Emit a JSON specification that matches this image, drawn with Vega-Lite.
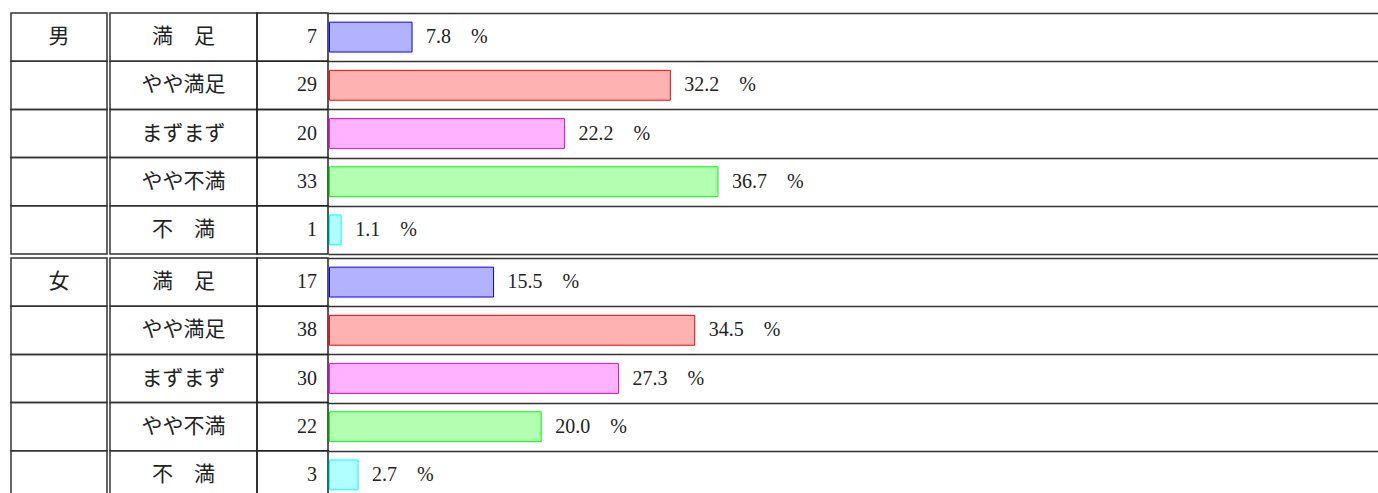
{
  "$schema": "https://vega.github.io/schema/vega-lite/v6.json",
  "padding": {"left": 10, "top": 12, "right": 0, "bottom": 0},
  "background": "white",
  "config": {
    "view": {"stroke": null},
    "text": {"font": "Liberation Serif", "fontSize": 20, "color": "#222", "baseline": "middle"}
  },
  "datasets": {
    "t": [
      {"g": "男", "c": "満　足", "n": 7, "p": 7.8},
      {"g": "男", "c": "やや満足", "n": 29, "p": 32.2},
      {"g": "男", "c": "まずまず", "n": 20, "p": 22.2},
      {"g": "男", "c": "やや不満", "n": 33, "p": 36.7},
      {"g": "男", "c": "不　満", "n": 1, "p": 1.1},
      {"g": "女", "c": "満　足", "n": 17, "p": 15.5},
      {"g": "女", "c": "やや満足", "n": 38, "p": 34.5},
      {"g": "女", "c": "まずまず", "n": 30, "p": 27.3},
      {"g": "女", "c": "やや不満", "n": 22, "p": 20.0},
      {"g": "女", "c": "不　満", "n": 3, "p": 2.7}
    ]
  },
  "data": {"name": "t"},
  "spacing": 2,
  "vconcat": [
    {
      "transform": [{"filter": "datum.g == '男'"}],
      "spacing": 3,
      "bounds": "flush",
      "hconcat": [
        {
          "width": 96, "height": 241,
          "encoding": {
            "y": {"field": "c", "type": "nominal", "sort": ["満　足", "やや満足", "まずまず", "やや不満", "不　満"], "scale": {"paddingInner": 0, "paddingOuter": 0}, "axis": null}
          },
          "layer": [
            {"mark": {"type": "rect", "fill": null, "stroke": "#333", "strokeWidth": 1.5},
             "encoding": {"x": {"datum": 0, "type": "quantitative", "scale": {"domain": [0, 1]}, "axis": null}, "x2": {"datum": 1}}},
            {"transform": [{"filter": "datum.c == '満　足'"}],
             "mark": {"type": "text", "font": "Noto Sans CJK JP", "fontSize": 21, "align": "center"},
             "encoding": {"x": {"datum": 0.5, "type": "quantitative"}, "text": {"field": "g"}}}
          ]
        },
        {
          "spacing": 0,
          "bounds": "flush",
          "hconcat": [
            {
              "width": 147, "height": 241,
              "encoding": {
                "y": {"field": "c", "type": "nominal", "sort": ["満　足", "やや満足", "まずまず", "やや不満", "不　満"], "scale": {"paddingInner": 0, "paddingOuter": 0}, "axis": null}
              },
              "layer": [
                {"mark": {"type": "rect", "fill": null, "stroke": "#333", "strokeWidth": 1.5},
                 "encoding": {"x": {"datum": 0, "type": "quantitative", "scale": {"domain": [0, 1]}, "axis": null}, "x2": {"datum": 1}}},
                {"mark": {"type": "text", "font": "Noto Sans CJK JP", "fontSize": 21, "align": "center"},
                 "encoding": {"x": {"datum": 0.5, "type": "quantitative"}, "text": {"field": "c"}}}
              ]
            },
            {
              "width": 71, "height": 241,
              "encoding": {
                "y": {"field": "c", "type": "nominal", "sort": ["満　足", "やや満足", "まずまず", "やや不満", "不　満"], "scale": {"paddingInner": 0, "paddingOuter": 0}, "axis": null}
              },
              "layer": [
                {"mark": {"type": "rect", "fill": null, "stroke": "#222", "strokeWidth": 1.5},
                 "encoding": {"x": {"datum": 0, "type": "quantitative", "scale": {"domain": [0, 1]}, "axis": null}, "x2": {"datum": 1}}},
                {"mark": {"type": "text", "align": "right", "dx": -11},
                 "encoding": {"x": {"datum": 1, "type": "quantitative"}, "text": {"field": "n"}}}
              ]
            },
            {
              "width": 1051, "height": 241,
              "transform": [{"calculate": "format(datum.p, '.1f') + '　%'", "as": "lab"}],
              "encoding": {
                "y": {"field": "c", "type": "nominal", "sort": ["満　足", "やや満足", "まずまず", "やや不満", "不　満"], "scale": {"paddingInner": 0, "paddingOuter": 0},
                      "axis": {"grid": true, "tickBand": "extent", "labels": false, "ticks": false, "domain": false, "title": null, "gridColor": "#333", "gridWidth": 1.5, "gridOpacity": 1}},
                "x": {"field": "p", "type": "quantitative", "scale": {"domain": [-0.14, 99.14], "nice": false, "zero": false}, "axis": null}
              },
              "layer": [
                {"mark": {"type": "bar", "height": {"band": 0.62}, "fillOpacity": 0.3, "strokeWidth": 1},
                 "encoding": {
                   "color": {"field": "c", "type": "nominal", "scale": {"domain": ["満　足", "やや満足", "まずまず", "やや不満", "不　満"], "range": ["#0000ff", "#ff0000", "#ff00ff", "#00ff00", "#00ffff"]}, "legend": null},
                   "stroke": {"field": "c", "type": "nominal", "scale": {"domain": ["満　足", "やや満足", "まずまず", "やや不満", "不　満"], "range": ["#0000ff", "#ff0000", "#ff00ff", "#00ff00", "#00ffff"]}, "legend": null}
                 }},
                {"mark": {"type": "text", "align": "left", "dx": 14},
                 "encoding": {"text": {"field": "lab"}}}
              ]
            }
          ]
        }
      ]
    },
    {
      "transform": [{"filter": "datum.g == '女'"}],
      "spacing": 3,
      "bounds": "flush",
      "hconcat": [
        {
          "width": 96, "height": 241,
          "encoding": {
            "y": {"field": "c", "type": "nominal", "sort": ["満　足", "やや満足", "まずまず", "やや不満", "不　満"], "scale": {"paddingInner": 0, "paddingOuter": 0}, "axis": null}
          },
          "layer": [
            {"mark": {"type": "rect", "fill": null, "stroke": "#333", "strokeWidth": 1.5},
             "encoding": {"x": {"datum": 0, "type": "quantitative", "scale": {"domain": [0, 1]}, "axis": null}, "x2": {"datum": 1}}},
            {"transform": [{"filter": "datum.c == '満　足'"}],
             "mark": {"type": "text", "font": "Noto Sans CJK JP", "fontSize": 21, "align": "center"},
             "encoding": {"x": {"datum": 0.5, "type": "quantitative"}, "text": {"field": "g"}}}
          ]
        },
        {
          "spacing": 0,
          "bounds": "flush",
          "hconcat": [
            {
              "width": 147, "height": 241,
              "encoding": {
                "y": {"field": "c", "type": "nominal", "sort": ["満　足", "やや満足", "まずまず", "やや不満", "不　満"], "scale": {"paddingInner": 0, "paddingOuter": 0}, "axis": null}
              },
              "layer": [
                {"mark": {"type": "rect", "fill": null, "stroke": "#333", "strokeWidth": 1.5},
                 "encoding": {"x": {"datum": 0, "type": "quantitative", "scale": {"domain": [0, 1]}, "axis": null}, "x2": {"datum": 1}}},
                {"mark": {"type": "text", "font": "Noto Sans CJK JP", "fontSize": 21, "align": "center"},
                 "encoding": {"x": {"datum": 0.5, "type": "quantitative"}, "text": {"field": "c"}}}
              ]
            },
            {
              "width": 71, "height": 241,
              "encoding": {
                "y": {"field": "c", "type": "nominal", "sort": ["満　足", "やや満足", "まずまず", "やや不満", "不　満"], "scale": {"paddingInner": 0, "paddingOuter": 0}, "axis": null}
              },
              "layer": [
                {"mark": {"type": "rect", "fill": null, "stroke": "#222", "strokeWidth": 1.5},
                 "encoding": {"x": {"datum": 0, "type": "quantitative", "scale": {"domain": [0, 1]}, "axis": null}, "x2": {"datum": 1}}},
                {"mark": {"type": "text", "align": "right", "dx": -11},
                 "encoding": {"x": {"datum": 1, "type": "quantitative"}, "text": {"field": "n"}}}
              ]
            },
            {
              "width": 1051, "height": 241,
              "transform": [{"calculate": "format(datum.p, '.1f') + '　%'", "as": "lab"}],
              "encoding": {
                "y": {"field": "c", "type": "nominal", "sort": ["満　足", "やや満足", "まずまず", "やや不満", "不　満"], "scale": {"paddingInner": 0, "paddingOuter": 0},
                      "axis": {"grid": true, "tickBand": "extent", "labels": false, "ticks": false, "domain": false, "title": null, "gridColor": "#333", "gridWidth": 1.5, "gridOpacity": 1}},
                "x": {"field": "p", "type": "quantitative", "scale": {"domain": [-0.14, 99.14], "nice": false, "zero": false}, "axis": null}
              },
              "layer": [
                {"mark": {"type": "bar", "height": {"band": 0.62}, "fillOpacity": 0.3, "strokeWidth": 1},
                 "encoding": {
                   "color": {"field": "c", "type": "nominal", "scale": {"domain": ["満　足", "やや満足", "まずまず", "やや不満", "不　満"], "range": ["#0000ff", "#ff0000", "#ff00ff", "#00ff00", "#00ffff"]}, "legend": null},
                   "stroke": {"field": "c", "type": "nominal", "scale": {"domain": ["満　足", "やや満足", "まずまず", "やや不満", "不　満"], "range": ["#0000ff", "#ff0000", "#ff00ff", "#00ff00", "#00ffff"]}, "legend": null}
                 }},
                {"mark": {"type": "text", "align": "left", "dx": 14},
                 "encoding": {"text": {"field": "lab"}}}
              ]
            }
          ]
        }
      ]
    }
  ]
}
